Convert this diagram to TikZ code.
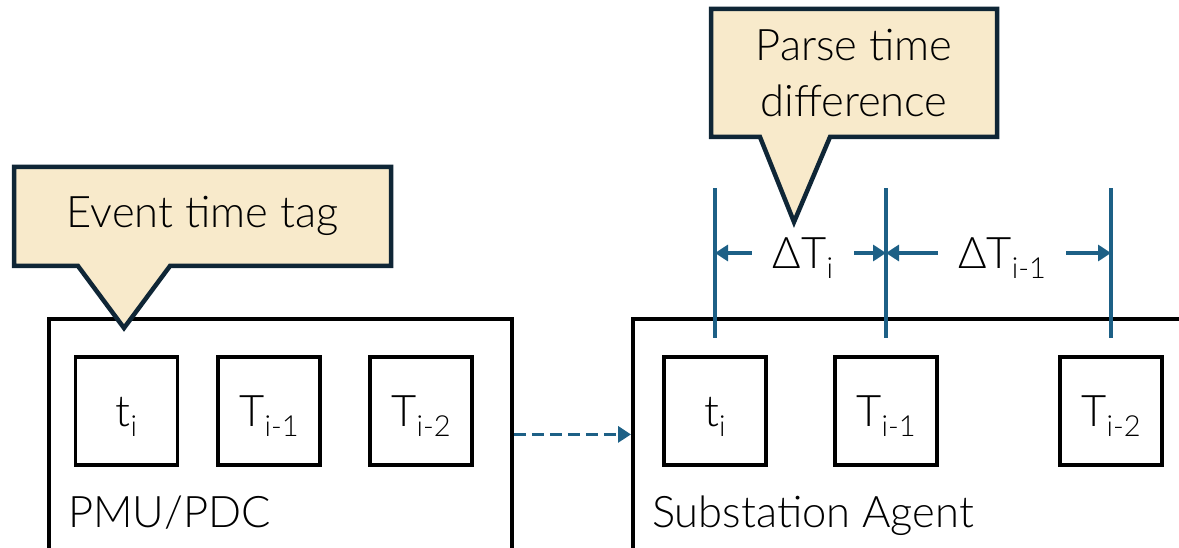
\documentclass[tikz,border=0pt]{standalone}
\usepackage{fontspec}
\setmainfont{Lato}[UprightFont=* Light]
\usetikzlibrary{arrows.meta}
\definecolor{callfill}{HTML}{F8EACB}
\definecolor{calldraw}{HTML}{0F2636}
\definecolor{dimblue}{HTML}{1D6086}
% lowered, smaller index text
\newcommand\lowsub[1]{\raisebox{-10pt}{\fontsize{29}{29}\selectfont #1}}

\begin{document}
\begin{tikzpicture}[x=1pt,y=-1pt,
  font=\fontsize{43.5}{56}\selectfont,
  frame/.style={draw=black,line width=3.8pt,inner sep=0pt},
  cell/.style={draw=black,line width=3.8pt,minimum width=102pt,minimum height=108pt,
               inner sep=0pt,text height=31pt,text depth=0pt},
  callout/.style={fill=callfill,draw=calldraw,line width=4.5pt,line join=miter},
  dim/.style={draw=dimblue,line width=3.8pt},
  dimarrow/.style={dimblue,line width=3.8pt,-{Triangle[length=13pt,width=16pt]}},
  lbl/.style={inner sep=0pt,text height=31pt,text depth=0pt},
  ]
\useasboundingbox (0,0) rectangle (1179,548);

% outer frames
\node[frame,minimum width=463pt,minimum height=231pt,anchor=north west] (pmu) at (47,317) {};
\node[frame,minimum width=600pt,minimum height=231pt,anchor=north west] (agent) at (631,317) {};

% stored time tags
\node[cell] (p1) at (126.5,411) {t\lowsub{i}};
\node[cell] (p2) at (269,411) {T\lowsub{i-1}};
\node[cell] (p3) at (421,411) {T\lowsub{i-2}};
\node[cell] (a1) at (715,411) {t\lowsub{i}};
\node[cell] (a2) at (886,411) {T\lowsub{i-1}};
\node[cell] (a3) at (1111,411) {T\lowsub{i-2}};

% frame captions
\node[anchor=base west,inner sep=0pt] (pmulbl) at (68,527) {PMU/PDC};
\node[anchor=base west,inner sep=0pt] (agentlbl) at (652,527) {Substation Agent};

% transfer
\draw[dimarrow,dash pattern=on 12pt off 6pt] (pmu.east) -- (agent.west);

% dimension lines above the agent cells
\foreach \c in {a1,a2,a3}{
  \coordinate (\c top) at ([yshift=167pt]\c.north);
  \coordinate (\c bot) at ([yshift=17pt]\c.north);
  \draw[dim] (\c top) -- (\c bot);
}
\node[lbl,minimum width=102pt] (d1) at (803,253) {ΔT\lowsub{i}};
\node[lbl,minimum width=128pt] (d2) at (1002,253) {ΔT\lowsub{i-1}};
\draw[dimarrow] (d1.west) -- (d1.west -| a1top);
\draw[dimarrow] (d1.east) -- (d1.east -| a2top);
\draw[dimarrow] (d2.west) -- (d2.west -| a2top);
\draw[dimarrow] (d2.east) -- (d2.east -| a3top);

% callouts
\draw[callout] (14,167) -- (391,167) -- (391,266) -- (170,266) -- (124,328)
  -- (78,266) -- (14,266) -- cycle;
\node (evt) at (202.5,216) {Event time tag};

\draw[callout] (711,9) -- (997,9) -- (997,137) -- (830,137) -- (794,222)
  -- (760,137) -- (711,137) -- cycle;
\node[align=center] (prs) at (854,73) {Parse time\\difference};
\end{tikzpicture}
\end{document}
